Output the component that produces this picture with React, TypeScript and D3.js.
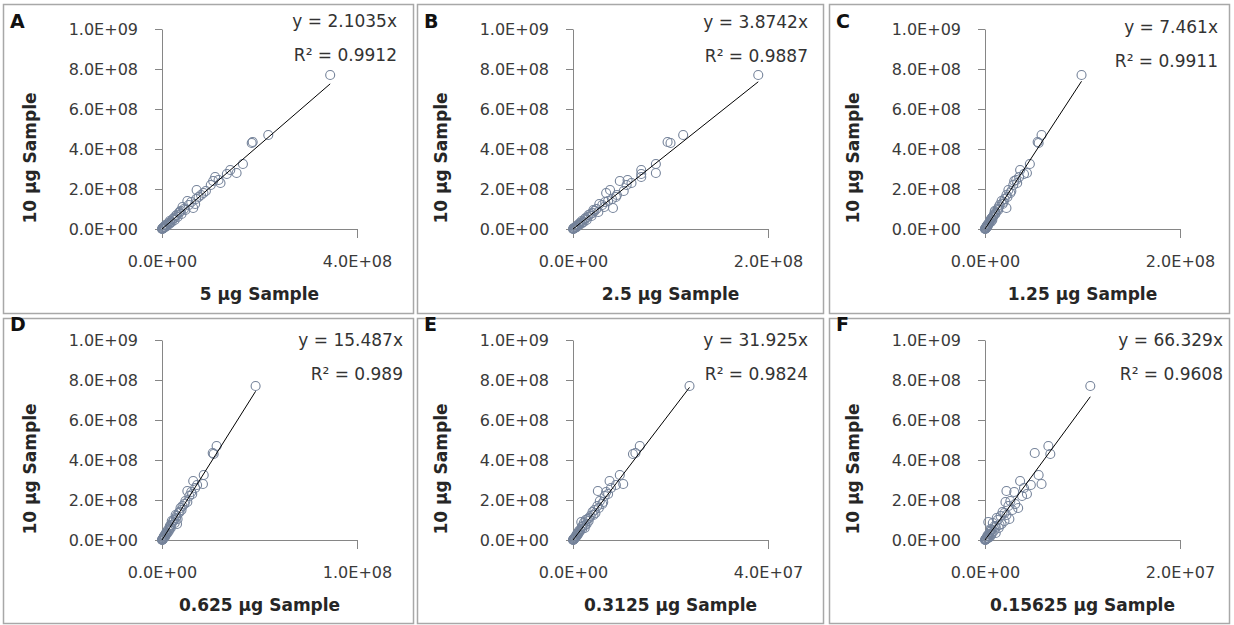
import React, { useEffect, useRef } from "react";
import * as d3 from "d3";

// ---------- data ----------
const panelLetters = ["A", "B", "C", "D", "E", "F"];
const xTitles = ["5 μg Sample", "2.5 μg Sample", "1.25 μg Sample", "0.625 μg Sample", "0.3125 μg Sample", "0.15625 μg Sample"];
const yTitle = "10 μg Sample";
const slopes = [2.1035, 3.8742, 7.461, 15.487, 31.925, 66.329];
const eqLabels = ["y = 2.1035x", "y = 3.8742x", "y = 7.461x", "y = 15.487x", "y = 31.925x", "y = 66.329x"];
const r2Labels = ["0.9912", "0.9887", "0.9911", "0.989", "0.9824", "0.9608"];
const xMaxValues = [4e8, 2e8, 2e8, 1e8, 4e7, 2e7];
const xTickLabels = [
  ["0.0E+00", "4.0E+08"],
  ["0.0E+00", "2.0E+08"],
  ["0.0E+00", "2.0E+08"],
  ["0.0E+00", "1.0E+08"],
  ["0.0E+00", "4.0E+07"],
  ["0.0E+00", "2.0E+07"],
];
const yTickValues = [0, 2e8, 4e8, 6e8, 8e8, 1e9];
const yTickLabels = ["0.0E+00", "2.0E+08", "4.0E+08", "6.0E+08", "8.0E+08", "1.0E+09"];

// 10 µg sample intensities (shared y values)
const y10 = [7.7e8, 4.7e8, 4.3e8, 4.35e8, 3.25e8, 2.95e8, 2.8e8, 2.75e8, 2.6e8, 2.45e8, 2.4e8, 2.3e8, 2.2e8, 1.95e8, 1.8e8, 1.7e8, 1.5e8, 1.35e8, 1.2e8, 1.05e8, 1.0e8, 9.0e7, 8.0e7, 7.0e7, 6.0e7, 5.0e7, 4.5e7, 4.0e7, 3.5e7, 3.0e7, 2.5e7, 2.0e7, 1.5e7, 1.2e7, 9.0e6, 6.0e6, 4.0e6, 2.0e6, 1.0e6, 5.0e5,
  1.9e8, 1.6e8, 1.4e8, 1.25e8, 1.1e8, 9.5e7, 8.5e7, 7.5e7, 6.5e7, 5.5e7, 3.2e7, 2.2e7, 1.8e7, 8e6, 3e6];
const x5 = [3.45e8, 2.18e8, 1.84e8, 1.86e8, 1.66e8, 1.4e8, 1.53e8, 1.33e8, 1.09e8, 1.16e8, 1.05e8, 1.2e8, 1.0e8, 7.1e7, 8.5e7, 8.0e7, 7.0e7, 6.0e7, 5.5e7, 6.4e7, 4.5e7, 3.8e7, 3.5e7, 3.0e7, 3.2e7, 2.2e7, 2.6e7, 1.6e7, 2.0e7, 1.3e7, 1.5e7, 8e6, 1.0e7, 5e6, 6e6, 3e6, 2.5e6, 1e6, 5e5, 2e5,
  9.0e7, 7.5e7, 5.2e7, 6.8e7, 4.2e7, 4.8e7, 3.6e7, 4.0e7, 2.8e7, 2.5e7, 1.7e7, 1.1e7, 7e6, 4e6, 1.5e6];
const x2_5 = [1.9e8, 1.13e8, 1.0e8, 9.7e7, 8.5e7, 7.0e7, 8.5e7, 7.0e7, 7.0e7, 5.6e7, 4.8e7, 6.0e7, 5.5e7, 3.8e7, 3.4e7, 4.5e7, 4.0e7, 3.3e7, 3.0e7, 4.1e7, 2.4e7, 2.2e7, 2.0e7, 1.6e7, 1.5e7, 1.2e7, 1.4e7, 9e6, 1.1e7, 7e6, 8e6, 5e6, 4e6, 3e6, 3.5e6, 2e6, 1.2e6, 6e5, 3e5, 1e5,
  5.2e7, 4.4e7, 3.6e7, 2.7e7, 3.2e7, 2.1e7, 2.6e7, 1.8e7, 1.9e7, 1.3e7, 9.5e6, 6e6, 5.5e6, 2.5e6, 9e5];
const x1_25 = [9.9e7, 5.8e7, 5.5e7, 5.4e7, 4.6e7, 3.6e7, 4.3e7, 4.0e7, 3.5e7, 3.2e7, 3.0e7, 3.3e7, 2.9e7, 2.4e7, 2.6e7, 2.2e7, 2.0e7, 1.9e7, 1.5e7, 2.2e7, 1.3e7, 1.0e7, 1.1e7, 9e6, 8e6, 6e6, 7.5e6, 5e6, 6e6, 4e6, 3.5e6, 2.5e6, 2.8e6, 1.5e6, 2e6, 1e6, 6e5, 3e5, 2e5, 1e5,
  2.7e7, 2.3e7, 1.7e7, 1.8e7, 1.4e7, 1.35e7, 1.0e7, 1.05e7, 8.5e6, 7e6, 4.5e6, 3.2e6, 2.2e6, 1.2e6, 4e5];
const x0_625 = [4.8e7, 2.8e7, 2.65e7, 2.6e7, 2.14e7, 1.6e7, 2.1e7, 1.8e7, 1.7e7, 1.3e7, 1.5e7, 1.55e7, 1.4e7, 1.2e7, 1.15e7, 1.05e7, 1.0e7, 8.5e6, 7.5e6, 8.0e6, 6.0e6, 5.5e6, 7.7e6, 4.0e6, 4.5e6, 3.0e6, 3.5e6, 2.3e6, 2.8e6, 1.8e6, 2.0e6, 1.2e6, 1.5e6, 8e5, 6e5, 5e5, 3e5, 2e5, 1e5, 5e4,
  1.3e7, 9.5e6, 9.0e6, 7.0e6, 7.2e6, 5.0e6, 6.5e6, 4.6e6, 4.2e6, 3.8e6, 2.2e6, 1.4e6, 1.0e6, 6e5, 2.5e5];
const x0_3125 = [2.39e7, 1.37e7, 1.23e7, 1.28e7, 9.6e6, 7.5e6, 1.03e7, 8.8e6, 7.8e6, 5.1e6, 6.8e6, 7.2e6, 6.5e6, 5.5e6, 6.0e6, 5.0e6, 4.4e6, 4.6e6, 3.6e6, 3.0e6, 2.6e6, 1.7e6, 2.8e6, 2.0e6, 2.4e6, 1.5e6, 1.2e6, 1.3e6, 1.0e6, 8e5, 9e5, 6e5, 5e5, 4e5, 3e5, 2e5, 1.5e5, 8e4, 5e4, 2e4,
  6.2e6, 5.3e6, 4.0e6, 4.2e6, 3.3e6, 3.2e6, 2.2e6, 2.5e6, 1.8e6, 1.9e6, 1.1e6, 7e5, 7e5, 3e5, 1e5];
const x0_15625 = [1.08e7, 6.5e6, 6.7e6, 5.1e6, 5.5e6, 3.6e6, 5.8e6, 4.7e6, 4.0e6, 2.2e6, 3.0e6, 4.3e6, 3.8e6, 2.6e6, 3.1e6, 2.4e6, 2.8e6, 2.0e6, 1.6e6, 2.5e6, 1.3e6, 3.4e5, 1.7e6, 1.0e6, 1.4e6, 7e5, 9e5, 5e5, 1.1e6, 4e5, 6e5, 3e5, 5e5, 2e5, 3e5, 1.5e5, 1e5, 5e4, 3e4, 1e4,
  2.1e6, 3.4e6, 1.8e6, 2.2e6, 1.2e6, 2.0e6, 8e5, 1.5e6, 1.1e6, 6e5, 7e5, 2.5e5, 4e5, 1.2e5, 6e4];
const xSeries = [x5, x2_5, x1_25, x0_625, x0_3125, x0_15625];

// ---------- layout ----------
const W = 1234, H = 625;
const colLeft = [3, 417, 829];
const colRight = [413, 823, 1229];
const rowTop = [4, 318];
const rowBottom = [313, 623];
const axisX = [162, 573, 985];
const axisY0 = [229, 540];
const plotW = 195, plotH = 200;
const eqRightOff = [235, 235, 233, 241, 235, 238];
const eqDy = [-8, -7, -2, 0, 0, 0];
const FONT = "'DejaVu Sans', sans-serif";

export default function App() {
  const ref = useRef<SVGSVGElement>(null);
  useEffect(() => {
    const svg = d3.select(ref.current);
    svg.selectAll("*").remove();
    svg.append("rect").attr("width", W).attr("height", H).attr("fill", "#fff");

    xSeries.forEach((xs, i) => {
      const col = i % 3, row = Math.floor(i / 3);
      const g = svg.append("g");
      g.append("rect")
        .attr("x", colLeft[col] + 0.5).attr("y", rowTop[row] + 0.5)
        .attr("width", colRight[col] - colLeft[col]).attr("height", rowBottom[row] - rowTop[row])
        .attr("fill", "#fff").attr("stroke", "#a8a8a8").attr("stroke-width", 1.5);

      const x = d3.scaleLinear().domain([0, xMaxValues[i]]).range([axisX[col], axisX[col] + plotW]);
      const y = d3.scaleLinear().domain([0, 1e9]).range([axisY0[row], axisY0[row] - plotH]);

      const ya = d3.axisLeft(y).tickValues(yTickValues)
        .tickFormat((_d, j) => yTickLabels[j]).tickSize(7).tickPadding(17).tickSizeOuter(0);
      const gy = g.append("g").attr("transform", `translate(${axisX[col]},0)`).call(ya);
      const xa = d3.axisBottom(x).tickValues([0, xMaxValues[i]])
        .tickFormat((_d, j) => xTickLabels[i][j]).tickSize(9).tickPadding(18).tickSizeOuter(0);
      const gx = g.append("g").attr("transform", `translate(0,${axisY0[row]})`).call(xa);
      [gy, gx].forEach((ax) => {
        ax.attr("font-family", FONT).attr("font-size", 16);
        ax.selectAll("path, line").attr("stroke", "#868686").attr("stroke-width", 1);
        ax.selectAll("text").attr("fill", "#3a3a3a");
      });

      // points
      g.append("g").selectAll("circle").data(xs).join("circle")
        .attr("cx", (d) => x(d)).attr("cy", (_d, j) => y(y10[j]))
        .attr("r", 4.5).attr("fill", "none").attr("stroke", "#75839a").attr("stroke-width", 1.1);

      // trendline through origin
      const xmax = d3.max(xs) as number;
      const line = d3.line<number>().x((d) => x(d)).y((d) => y(d * slopes[i]));
      g.append("path").attr("d", line([0, xmax])).attr("stroke", "#000").attr("stroke-width", 1).attr("fill", "none");

      // equation labels
      const eqBase = y(1e9) + eqDy[i] + 6;
      const eqX = axisX[col] + eqRightOff[i];
      g.append("text").attr("x", eqX).attr("y", eqBase).attr("text-anchor", "end")
        .attr("font-family", FONT).attr("font-size", 17).attr("fill", "#333").text(eqLabels[i]);
      g.append("text").attr("x", eqX).attr("y", eqBase + 34).attr("text-anchor", "end")
        .attr("font-family", FONT).attr("font-size", 17).attr("fill", "#333").text(`R² = ${r2Labels[i]}`);

      // axis titles
      g.append("text").attr("x", axisX[col] + plotW / 2).attr("y", axisY0[row] + 71)
        .attr("text-anchor", "middle").attr("font-family", FONT).attr("font-size", 17)
        .attr("font-weight", "bold").attr("fill", "#262626").text(xTitles[i]);
      g.append("text")
        .attr("transform", `translate(${axisX[col] - 126},${axisY0[row] - 71}) rotate(-90)`)
        .attr("text-anchor", "middle").attr("font-family", FONT).attr("font-size", 17)
        .attr("font-weight", "bold").attr("fill", "#262626").text(yTitle);

      // panel letter
      g.append("text").attr("x", colLeft[col] + 7).attr("y", row === 0 ? 28 : 331)
        .attr("font-family", FONT).attr("font-size", 19).attr("font-weight", "bold")
        .attr("fill", "#111").text(panelLetters[i]);
    });
  }, []);

  return (
    <svg ref={ref} width={W} height={H} style={{ position: "absolute", left: 0, top: 0, display: "block" }} />
  );
}
